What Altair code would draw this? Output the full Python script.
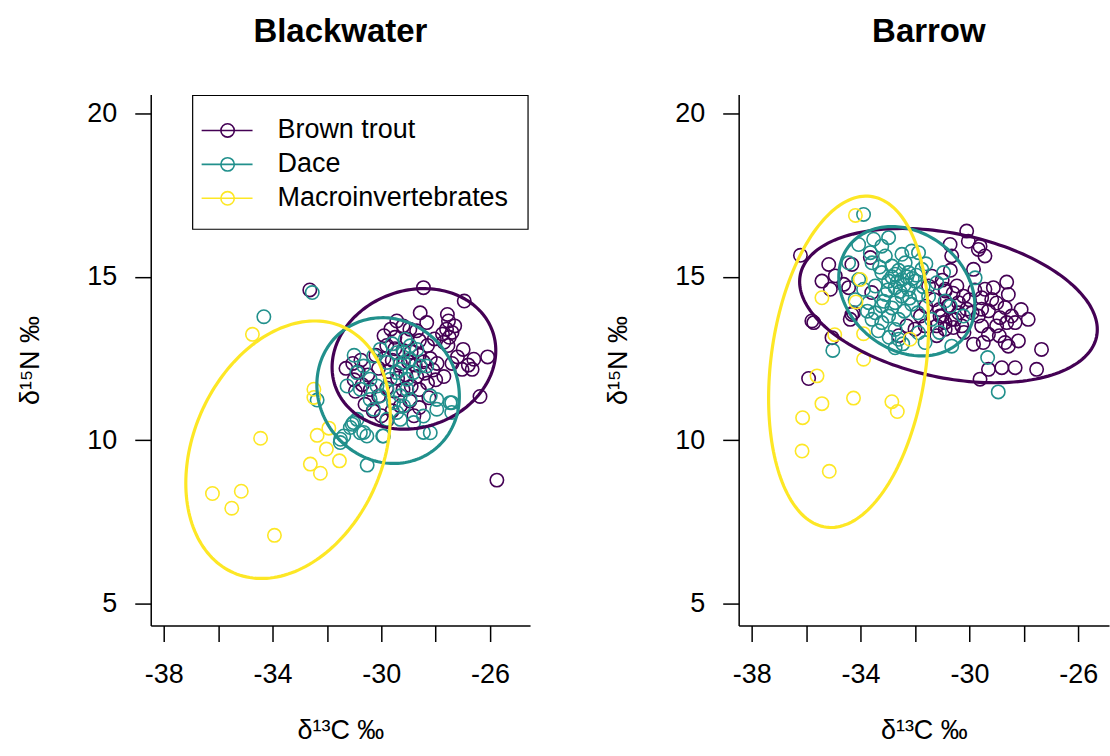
import altair as alt
import numpy as np
import pandas as pd

FONT = "Liberation Sans"
GROUPS = ["Brown trout", "Dace", "Macroinvertebrates"]
COLORS = ["#440154", "#21908C", "#FDE725"]

# ---- Blackwater: isotope values (d13C, d15N) ----
bw_trout_x = [-32.63, -28.45, -26.95, -25.75, -26.37, -26.09,
              -28.57, -28.33, -27.57, -27.53, -27.60, -27.75, -27.50, -27.40, -27.70, -27.55, -27.30,
              -29.43, -29.20, -28.95, -28.70, -29.65, -29.90, -29.50, -29.05, -28.60, -28.30, -28.05,
              -26.60, -26.66, -26.99, -27.03, -27.40, -27.20, -26.80,
              -29.80, -29.50, -29.20, -28.90, -28.60, -30.20, -29.90, -29.60, -29.30, -29.00, -28.75,
              -28.45, -28.20, -27.95, -28.10, -28.40, -28.70, -29.10, -29.40, -29.75, -30.10, -30.50,
              -30.85, -31.00, -30.70, -30.95, -30.40, -30.10, -29.80, -29.50, -29.20, -28.90, -28.60,
              -28.30, -28.00, -27.70, -30.60, -30.30, -30.00, -29.60, -29.30, -28.95, -28.60, -28.25,
              -29.80, -28.80, -31.30, -30.75, -31.05]
bw_trout_y = [14.60, 14.67, 14.26, 8.78, 11.34, 12.55,
              13.90, 13.60, 13.85, 13.65, 13.40, 13.25, 13.15, 13.30, 13.00, 12.90, 13.50,
              13.65, 13.50, 13.40, 13.35, 13.40, 13.20, 13.15, 13.10, 13.05, 12.90, 13.10,
              12.48, 12.17, 12.78, 12.17, 12.35, 12.55, 12.30,
              12.90, 12.80, 12.75, 12.70, 12.60, 12.60, 12.50, 12.45, 12.35, 12.40, 12.30,
              12.40, 12.50, 12.35, 12.15, 12.05, 11.95, 12.00, 11.90, 12.10, 12.20, 12.00,
              12.10, 11.85, 11.70, 11.50, 11.55, 11.35, 11.60, 11.50, 11.55, 11.65, 11.55,
              11.75, 11.85, 11.95, 11.10, 10.90, 10.75, 10.90, 11.05, 11.20, 11.00, 11.30,
              10.60, 10.75, 12.20, 12.45, 12.35]

bw_dace_x = [-34.32, -32.54, -32.36, -30.52,
             -29.18, -29.43, -28.94, -28.57, -30.28, -30.65, -31.26, -30.77, -30.41, -29.67,
             -29.30, -29.18, -28.94, -29.43, -29.79, -30.28, -28.20, -27.96, -27.47, -27.41,
             -28.45, -28.20, -28.81, -31.02, -31.14, -30.77, -30.53, -31.38, -31.51, -29.92,
             -29.06, -28.82, -29.79, -30.04, -29.12, -28.69, -28.33, -29.43, -29.79, -30.90,
             -30.16, -29.18, -29.30, -28.94, -29.06, -29.55, -30.41, -30.04, -27.96, -29.30,
             -30.89, -31.07, -30.65, -31.50, -29.95, -28.45, -27.41, -31.00, -29.60]
bw_dace_y = [13.78, 14.52, 11.23, 9.24,
             12.38, 12.68, 12.89, 12.27, 12.58, 12.27, 11.66, 11.56, 11.87, 11.87,
             11.36, 11.05, 11.25, 10.85, 10.64, 10.95, 11.36, 11.25, 11.15, 10.85,
             10.74, 10.23, 10.54, 10.54, 10.39, 10.23, 10.13, 10.13, 9.93, 10.13,
             11.87, 12.07, 12.38, 12.78, 13.09, 12.78, 12.27, 12.07, 11.56, 12.07,
             11.66, 12.68, 12.17, 12.48, 11.56, 11.15, 11.25, 11.36, 10.95, 10.64,
             10.64, 10.49, 10.24, 10.03, 10.13, 10.24, 11.15, 12.60, 12.95]

bw_macro_x = [-34.74, -32.48, -32.48, -34.44, -32.36, -31.93, -32.02, -32.61, -32.24, -31.54,
              -36.21, -35.15, -35.50, -33.93]
bw_macro_y = [13.24, 11.56, 11.31, 10.06, 10.15, 10.37, 9.73, 9.27, 8.99, 9.37,
              8.37, 8.44, 7.92, 7.09]

# ---- Barrow: isotope values (d13C, d15N) ----
br_trout_x = [-30.10, -30.04, -30.71, -29.61, -29.43, -30.65, -29.85, -28.63, -29.12, -29.43,
              -28.57, -29.55, -29.18, -28.69, -29.55, -29.30, -29.67, -28.88, -28.45, -28.63,
              -28.32, -27.84, -29.00, -29.55, -29.30, -29.49, -29.85, -28.69, -28.57, -28.20,
              -27.35, -28.81, -28.32, -29.30, -27.53, -29.61, -30.40, -30.65, -30.28, -30.89,
              -30.46, -30.22, -30.77, -30.10, -31.08,
              -36.21, -35.17, -35.42, -34.93, -34.62, -34.32, -35.11, -34.44, -35.79, -35.05,
              -34.26, -34.38, -35.91, -31.50, -31.63, -31.20, -31.38, -30.89, -30.77, -30.53,
              -31.01, -30.89, -30.59,
              -29.67, -34.32, -33.59, -33.64, -35.72,
              -31.30, -31.10, -30.90, -31.20, -30.60, -30.40, -30.00, -29.90, -30.20, -31.60,
              -31.80, -32.00, -32.30, -29.00, -28.90, -28.10, -29.80, -31.00, -30.70, -32.60]
br_trout_y = [16.40, 16.09, 15.99, 15.94, 15.64, 15.64, 15.23, 14.84, 14.67, 14.62,
              14.46, 14.36, 14.31, 14.06, 14.01, 13.96, 13.80, 13.75, 13.80, 13.60,
              13.60, 13.70, 13.50, 13.50, 13.24, 12.99, 12.94, 12.99, 12.88, 13.04,
              12.78, 12.22, 12.22, 12.17, 12.17, 11.87, 14.21, 13.70, 13.50, 14.62,
              14.72, 14.41, 14.11, 14.01, 13.80,
              15.66, 15.38, 14.87, 15.03, 14.77, 15.38, 14.62, 14.67, 13.65, 13.14,
              13.90, 13.70, 11.89, 14.72, 13.50, 13.50, 15.02, 14.57, 14.11, 13.70,
              13.80, 13.40, 13.45,
              15.84, 13.85, 14.52, 15.59, 13.60,
              14.30, 14.00, 13.60, 13.20, 14.50, 13.90, 14.30, 13.90, 13.30, 14.10,
              13.80, 13.40, 13.50, 14.20, 13.20, 14.00, 14.60, 14.90, 15.20, 13.20]

br_dace_x = [-33.89, -35.02, -28.94, -29.33, -29.79, -30.65, -30.22, -30.95,
             -33.52, -32.97, -34.07, -33.22, -33.64, -33.09, -32.48, -32.12, -31.87, -33.58,
             -32.85, -32.36, -33.22, -32.73, -32.24, -31.75, -32.97, -32.48, -31.99, -33.46,
             -32.73, -32.24, -33.09, -32.48, -31.87, -33.70, -33.22, -32.73, -32.12, -33.46,
             -32.97, -33.58, -33.22, -32.60, -32.73, -32.60, -32.73, -31.87, -31.63, -34.07,
             -34.44, -33.89, -31.20, -30.89,
             -32.85, -32.60, -32.40, -32.10, -33.00, -32.55, -32.20, -31.95, -33.30, -32.65,
             -32.30, -31.70, -31.50, -33.15, -32.85, -32.40, -31.90, -33.75, -33.35, -32.95,
             -32.45, -31.40, -31.10, -34.20, -30.70, -31.60]
br_dace_y = [16.91, 12.75, 11.48, 12.53, 14.97, 12.88, 13.80, 15.13,
             16.15, 16.20, 15.99, 15.94, 15.74, 15.64, 15.69, 15.79, 15.74, 15.43,
             15.33, 15.43, 15.13, 15.08, 15.13, 15.23, 14.87, 14.92, 14.87, 14.72,
             14.67, 14.62, 14.46, 14.41, 14.46, 14.21, 14.11, 14.21, 14.16, 13.90,
             13.80, 13.70, 13.60, 13.70, 13.39, 13.09, 12.83, 13.29, 12.99, 14.92,
             15.43, 14.62, 14.82, 14.26,
             15.00, 15.20, 14.75, 14.95, 14.60, 14.55, 14.35, 15.05, 15.30, 14.85,
             15.00, 14.70, 14.40, 14.25, 14.05, 13.95, 13.90, 13.95, 13.35, 13.15,
             12.95, 13.70, 13.30, 14.30, 14.10, 15.40]

br_macro_x = [-34.19, -34.01, -35.42, -34.17, -33.89, -34.95, -32.18, -33.89, -35.60, -35.42,
              -34.26, -32.85, -32.65, -36.13, -36.15, -35.15]
br_macro_y = [16.88, 14.92, 14.36, 14.23, 13.26, 13.23, 13.09, 12.48, 11.97, 11.12,
              11.29, 11.18, 10.88, 10.69, 9.67, 9.05]

# Standard ellipse summaries per group: centre, spread in x and y, correlation
bw_ellipses = {
    "Brown trout": (-28.80, 12.49, 3.01, 2.15, 0.12),
    "Dace": (-29.75, 11.52, 2.62, 2.23, -0.08),
    "Macroinvertebrates": (-33.43, 9.71, 3.76, 3.94, 0.26),
}
br_ellipses = {
    "Brown trout": (-30.77, 14.12, 5.47, 2.36, -0.31),
    "Dace": (-32.30, 14.56, 2.50, 1.98, -0.22),
    "Macroinvertebrates": (-34.44, 12.40, 2.94, 5.07, 0.22),
}


def points_frame(series):
    frames = []
    for group, (xs, ys) in zip(GROUPS, series):
        frames.append(pd.DataFrame({"x": xs, "y": ys, "group": group}))
    return pd.concat(frames, ignore_index=True)


def ellipse_frame(params, n=181):
    t = np.linspace(0, 2 * np.pi, n)
    frames = []
    for group in GROUPS:
        cx, cy, sx, sy, r = params[group]
        frames.append(pd.DataFrame({
            "x": cx + sx * np.cos(t),
            "y": cy + sy * (r * np.cos(t) + np.sqrt(1 - r * r) * np.sin(t)),
            "group": group,
            "k": np.arange(n),
        }))
    return pd.concat(frames, ignore_index=True)


color = alt.Color("group:N", scale=alt.Scale(domain=GROUPS, range=COLORS), legend=None)

x_ticks = [-38, -36, -34, -32, -30, -28, -26]
y_ticks = [5, 10, 15, 20]
POINT_SIZE = 180


def panel(name, pts, ells, xmax, width, title_dx, with_key):
    xs = alt.Scale(domain=[-38.48, xmax], nice=False, zero=False)
    ys = alt.Scale(domain=[4.33, 20.58], nice=False, zero=False)
    x_axis = alt.Axis(values=x_ticks, title="δ¹³C ‰",
                      labelExpr="datum.value % 4 == 0 ? '' : '' + datum.value")
    y_axis = alt.Axis(values=y_ticks, title="δ¹⁵N ‰", labelExpr="'' + datum.value")

    dots = alt.Chart(pts).mark_point(shape="circle", filled=False, size=POINT_SIZE,
                                     strokeWidth=1.6, opacity=1, clip=True).encode(
        x=alt.X("x:Q", scale=xs, axis=x_axis),
        y=alt.Y("y:Q", scale=ys, axis=y_axis),
        color=color,
    )
    rings = alt.Chart(ells).mark_line(strokeWidth=3.2, clip=True).encode(
        x=alt.X("x:Q", scale=xs),
        y=alt.Y("y:Q", scale=ys),
        detail="group:N",
        order="k:Q",
        color=color,
    )
    layers = [dots, rings]

    if with_key:
        one = pd.DataFrame({"a": [0]})
        layers.append(alt.Chart(one).mark_rect(fill="white", stroke="black", strokeWidth=1.2).encode(
            x=alt.value(42), x2=alt.value(378), y=alt.value(1), y2=alt.value(135)))
        for i, (g, c) in enumerate(zip(GROUPS, COLORS)):
            yy = 36 + 34 * i
            layers.append(alt.Chart(one).mark_rule(color=c, strokeWidth=1.6).encode(
                x=alt.value(51), x2=alt.value(102), y=alt.value(yy)))
            layers.append(alt.Chart(one).mark_point(shape="circle", filled=False, size=POINT_SIZE,
                                                    strokeWidth=1.6, color=c, opacity=1).encode(
                x=alt.value(77), y=alt.value(yy)))
            layers.append(alt.Chart(one).mark_text(text=g, align="left", baseline="middle",
                                                   font=FONT, fontSize=27, color="black").encode(
                x=alt.value(127), y=alt.value(yy)))

    return alt.layer(*layers).properties(
        width=width, height=532,
        title=alt.TitleParams(name, font=FONT, fontSize=33, fontWeight="bold", color="black",
                              anchor="middle", frame="group", offset=46, dx=title_dx),
    )


left = panel("Blackwater",
             points_frame([(bw_trout_x, bw_trout_y), (bw_dace_x, bw_dace_y), (bw_macro_x, bw_macro_y)]),
             ellipse_frame(bw_ellipses), -24.53, 380, 0, True)
right = panel("Barrow",
              points_frame([(br_trout_x, br_trout_y), (br_dace_x, br_dace_y), (br_macro_x, br_macro_y)]),
              ellipse_frame(br_ellipses), -24.87, 371, 5, False)

chart = alt.hconcat(left, right, spacing=73).properties(
    padding={"left": 16, "top": 14, "right": 0, "bottom": 0},
    background="white",
).configure_view(stroke="transparent").configure_axis(
    grid=False,
    domainColor="black", domainWidth=1.5,
    tickColor="black", tickWidth=1.5, tickSize=16,
    labelFont=FONT, labelFontSize=27, labelColor="black",
    titleFont=FONT, titleFontSize=27, titleFontWeight="normal", titleColor="black",
).configure_axisX(labelPadding=20, titlePadding=30, labelAngle=0
).configure_axisY(labelPadding=18, titlePadding=42, labelAngle=0)

chart.save("out.html", embed_options={"renderer": "svg", "actions": False})
